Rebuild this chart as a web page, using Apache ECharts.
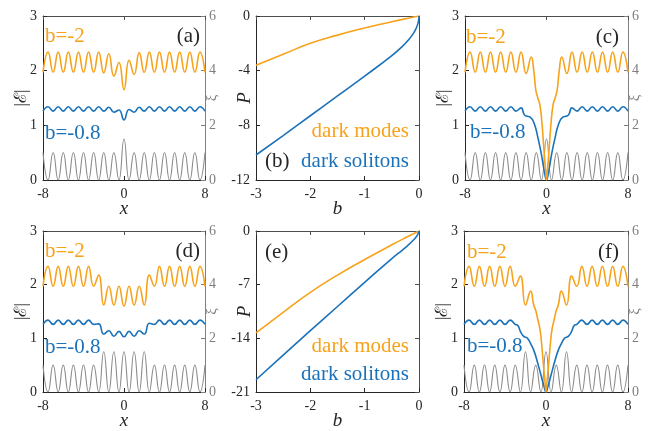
<!DOCTYPE html>
<html>
<head>
<meta charset="utf-8">
<script src="https://cdn.jsdelivr.net/npm/echarts@6/dist/echarts.min.js"></script>
<style>
html,body{margin:0;padding:0;background:#fff;}
#main{width:664px;height:431px;}
</style>
</head>
<body>
<div id="main"></div>
<script>
// x samples for the |E| panels (a),(d): peaks / troughs every half period
var xs = [-8,-7.5,-7,-6.5,-6,-5.5,-5,-4.5,-4,-3.5,-3,-2.5,-2,-1.5,-1,-0.5,0,0.5,1,1.5,2,2.5,3,3.5,4,4.5,5,5.5,6,6.5,7,7.5,8];

// lattice (gray, right axis xi)
var grayA = [1,0,1,0,1,0,1,0,1,0,1,0,1,0,1,0,1.5,0,1,0,1,0,1,0,1,0,1,0,1,0,1,0,1];
var grayD = [1,0,1,0,1,0,1,0,1,0,1,0,1.5,0,1.5,0,1.5,0,1.5,0,1.5,0,1,0,1,0,1,0,1,0,1,0,1];
var grayF = [1,0,1,0,1,0,1,0,1,0,1,0,1.5,0,1,0,1.5,0,1,0,1.5,0,1,0,1,0,1,0,1,0,1,0,1];

// (a) b=-2 / b=-0.8
var orangeA = [1.97,2.34,1.97,2.34,1.97,2.34,1.97,2.34,1.97,2.34,1.97,2.34,1.96,2.31,1.9,2.15,1.65,2.19,1.93,2.33,1.97,2.34,1.97,2.34,1.97,2.34,1.97,2.34,1.97,2.34,1.97,2.34,1.97];
var blueA = [1.26,1.34,1.26,1.34,1.26,1.34,1.26,1.34,1.26,1.34,1.26,1.34,1.26,1.33,1.24,1.28,1.1,1.29,1.24,1.33,1.26,1.34,1.26,1.34,1.26,1.34,1.26,1.34,1.26,1.34,1.26,1.34,1.26];

// (d)
var orangeD = [1.97,2.34,1.97,2.34,1.97,2.34,1.97,2.34,1.97,2.34,1.97,2.18,1.62,1.97,1.62,1.97,1.6,1.97,1.62,1.97,1.62,2.18,1.97,2.34,1.97,2.34,1.97,2.34,1.97,2.34,1.97,2.34,1.97];
var blueD = [1.26,1.34,1.26,1.34,1.26,1.34,1.26,1.34,1.26,1.34,1.26,1.27,1.08,1.14,1.04,1.13,1.03,1.13,1.04,1.14,1.08,1.28,1.26,1.34,1.26,1.34,1.26,1.34,1.26,1.34,1.26,1.34,1.26];

// (c) [x, |E|]
var orangeC = [[-8,1.97],[-7.5,2.34],[-7,1.97],[-6.5,2.34],[-6,1.97],[-5.5,2.34],[-5,1.97],[-4.5,2.34],[-4,1.97],[-3.5,2.34],[-3,1.97],[-2.5,2.34],[-2,1.95],[-1.5,2.25],[-1.25,2.0],[-1.05,1.65],[-0.85,1.5],[-0.65,1.38],[-0.45,1.05],[-0.25,0.55],[-0.1,0.2],[0,0],[0.1,0.2],[0.25,0.55],[0.45,1.05],[0.65,1.38],[0.85,1.5],[1.05,1.65],[1.25,2.0],[1.5,2.25],[2,1.95],[2.5,2.34],[3,1.97],[3.5,2.34],[4,1.97],[4.5,2.34],[5,1.97],[5.5,2.34],[6,1.97],[6.5,2.34],[7,1.97],[7.5,2.34],[8,1.97]];
var blueC = [[-8,1.26],[-7.5,1.34],[-7,1.26],[-6.5,1.34],[-6,1.26],[-5.5,1.34],[-5,1.26],[-4.5,1.34],[-4,1.26],[-3.5,1.34],[-3,1.26],[-2.5,1.32],[-2.2,1.2],[-2,1.17],[-1.6,1.15],[-1.2,1.03],[-0.85,0.78],[-0.5,0.47],[-0.25,0.2],[0,0],[0.25,0.2],[0.5,0.47],[0.85,0.78],[1.2,1.03],[1.6,1.15],[2,1.17],[2.2,1.2],[2.5,1.32],[3,1.26],[3.5,1.34],[4,1.26],[4.5,1.34],[5,1.26],[5.5,1.34],[6,1.26],[6.5,1.34],[7,1.26],[7.5,1.34],[8,1.26]];

// (f)
var orangeF = [[-8,1.97],[-7.5,2.34],[-7,1.97],[-6.5,2.34],[-6,1.97],[-5.5,2.34],[-5,1.97],[-4.5,2.34],[-4,1.97],[-3.5,2.34],[-3,1.97],[-2.5,2.16],[-2,1.62],[-1.5,1.88],[-1.2,1.62],[-1.0,1.52],[-0.8,1.35],[-0.6,1.18],[-0.45,0.95],[-0.25,0.5],[-0.1,0.2],[0,0],[0.1,0.2],[0.25,0.5],[0.45,0.95],[0.6,1.18],[0.8,1.35],[1.0,1.52],[1.2,1.62],[1.5,1.88],[2,1.62],[2.5,2.16],[3,1.97],[3.5,2.34],[4,1.97],[4.5,2.34],[5,1.97],[5.5,2.34],[6,1.97],[6.5,2.34],[7,1.97],[7.5,2.34],[8,1.97]];
var blueF = [[-8,1.26],[-7.5,1.34],[-7,1.26],[-6.5,1.34],[-6,1.26],[-5.5,1.34],[-5,1.26],[-4.5,1.34],[-4,1.26],[-3.5,1.34],[-3,1.26],[-2.75,1.24],[-2.5,1.13],[-2.2,1.04],[-1.8,1.0],[-1.5,0.9],[-1.2,0.78],[-0.85,0.57],[-0.5,0.32],[-0.2,0.11],[0,0],[0.2,0.11],[0.5,0.32],[0.85,0.57],[1.2,0.78],[1.5,0.9],[1.8,1.0],[2.2,1.04],[2.5,1.13],[2.75,1.24],[3,1.26],[3.5,1.34],[4,1.26],[4.5,1.34],[5,1.26],[5.5,1.34],[6,1.26],[6.5,1.34],[7,1.26],[7.5,1.34],[8,1.26]];

// (b) power P vs b
var orangeB = [[-3,-3.6],[-2.5,-2.8],[-2,-2.0],[-1.5,-1.4],[-1,-0.88],[-0.5,-0.42],[-0.2,-0.16],[0,0]];
var blueB = [[-3,-10.17],[-2.5,-8.75],[-2,-7.3],[-1.5,-5.85],[-1,-4.4],[-0.5,-2.9],[-0.3,-2.2],[-0.2,-1.78],[-0.1,-1.25],[-0.05,-0.88],[-0.02,-0.55],[-0.005,-0.25],[0,0]];
// (e)
var orangeE = [[-3,-13.3],[-2.5,-10.6],[-2,-8.0],[-1.5,-5.75],[-1,-3.72],[-0.5,-1.8],[-0.25,-0.88],[0,0]];
var blueE = [[-3,-19.4],[-2.5,-16.2],[-2,-13.0],[-1.5,-9.85],[-1,-6.7],[-0.5,-3.6],[-0.3,-2.45],[-0.2,-1.85],[-0.1,-1.16],[-0.05,-0.75],[-0.02,-0.4],[0,0]];

var ORANGE = '#F7A21B', BLUE = '#1A72BB', GRAY = '#8C8C8C', INK = '#262626';
var FONT = 'Liberation Serif';

function pairs(x, y) {
    return x.map(function (v, i) { return [v, y[i]]; });
}

var panels = [
    {grid: {left: 43, top: 16, width: 162, height: 164}, x: [-8, 8, 8], xName: 'x', y: [0, 3, 1], yName: '|ℰ|', right: true},
    {grid: {left: 256, top: 16, width: 163, height: 164}, x: [-3, 0, 1], xName: 'b', y: [-12, 0, 4], yName: 'P', right: false},
    {grid: {left: 465, top: 16, width: 163, height: 164}, x: [-8, 8, 8], xName: 'x', y: [0, 3, 1], yName: '|ℰ|', right: true},
    {grid: {left: 43, top: 231, width: 162, height: 163}, x: [-8, 8, 8], xName: 'x', y: [0, 3, 1], yName: '|ℰ|', right: true},
    {grid: {left: 256, top: 231, width: 163, height: 163}, x: [-3, 0, 1], xName: 'b', y: [-21, 0, 7], yName: 'P', right: false},
    {grid: {left: 464, top: 231, width: 164, height: 163}, x: [-8, 8, 8], xName: 'x', y: [0, 3, 1], yName: '|ℰ|', right: true}
];

var labelStyle = {fontFamily: FONT, fontSize: 14, color: INK, margin: 6};
var nameItalic = {fontFamily: FONT, fontSize: 19, fontStyle: 'italic', color: INK};

var grids = [], xAxes = [], yAxes = [];
panels.forEach(function (p, g) {
    grids.push(p.grid);
    // bottom axis
    xAxes.push({
        gridIndex: g, type: 'value', min: p.x[0], max: p.x[1], interval: p.x[2],
        name: p.xName, nameLocation: 'middle', nameGap: 19, nameMoveOverlap: false, nameTextStyle: nameItalic,
        axisLine: {onZero: false, lineStyle: {color: INK, width: 1}},
        axisTick: {inside: true, length: 4, lineStyle: {color: INK}},
        axisLabel: Object.assign({}, labelStyle, {margin: 7}),
        splitLine: {show: false}
    });
    // top box side
    xAxes.push({
        gridIndex: g, type: 'value', position: 'top', min: p.x[0], max: p.x[1], interval: p.x[2],
        axisLine: {onZero: false, lineStyle: {color: '#4d4d4d', width: 1}},
        axisTick: {inside: true, length: 4, lineStyle: {color: '#4d4d4d'}},
        axisLabel: {show: false}, splitLine: {show: false}
    });
    // left axis
    yAxes.push({
        gridIndex: g, type: 'value', min: p.y[0], max: p.y[1], interval: p.y[2],
        name: p.yName, nameLocation: 'middle', nameMoveOverlap: false,
        nameGap: p.right ? 13 : 2,
        nameTextStyle: p.right ? {fontFamily: FONT, fontSize: 17, color: INK} : nameItalic,
        axisLine: {onZero: false, lineStyle: {color: INK, width: 1}},
        axisTick: {inside: true, length: 4, lineStyle: {color: INK}},
        axisLabel: labelStyle,
        splitLine: {show: false}
    });
    // right axis: xi for the field panels, plain box side for P panels
    if (p.right) {
        yAxes.push({
            gridIndex: g, type: 'value', position: 'right', min: 0, max: 6, interval: 2,
            name: 'ξ', nameLocation: 'middle', nameGap: 0, nameMoveOverlap: false,
            nameTextStyle: {fontFamily: FONT, fontSize: 15, color: '#7f7f7f'},
            axisLine: {onZero: false, lineStyle: {color: '#808080', width: 1}},
            axisTick: {inside: true, length: 4, lineStyle: {color: '#808080'}},
            axisLabel: Object.assign({}, labelStyle, {color: '#7f7f7f', margin: 4}),
            splitLine: {show: false}
        });
    } else {
        yAxes.push({
            gridIndex: g, type: 'value', position: 'right', min: p.y[0], max: p.y[1], interval: p.y[2],
            axisLine: {onZero: false, lineStyle: {color: '#4d4d4d', width: 1}},
            axisTick: {inside: true, length: 4, lineStyle: {color: '#4d4d4d'}},
            axisLabel: {show: false}, splitLine: {show: false}
        });
    }
});

function line(g, yi, data, color, w) {
    return {
        type: 'line', xAxisIndex: 2 * g, yAxisIndex: 2 * g + yi, data: data,
        smooth: 0.5, showSymbol: false, symbol: 'none',
        lineStyle: {color: color, width: w}, itemStyle: {color: color},
        silent: true
    };
}

var series = [
    // (a)
    line(0, 1, pairs(xs, grayA), GRAY, 1.1),
    line(0, 0, pairs(xs, blueA), BLUE, 1.6),
    line(0, 0, pairs(xs, orangeA), ORANGE, 1.6),
    // (b)
    line(1, 0, orangeB, ORANGE, 1.6),
    line(1, 0, blueB, BLUE, 1.6),
    // (c)
    line(2, 1, pairs(xs, grayA), GRAY, 1.1),
    line(2, 0, blueC, BLUE, 1.6),
    line(2, 0, orangeC, ORANGE, 1.6),
    // (d)
    line(3, 1, pairs(xs, grayD), GRAY, 1.1),
    line(3, 0, pairs(xs, blueD), BLUE, 1.6),
    line(3, 0, pairs(xs, orangeD), ORANGE, 1.6),
    // (e)
    line(4, 0, orangeE, ORANGE, 1.6),
    line(4, 0, blueE, BLUE, 1.6),
    // (f)
    line(5, 1, pairs(xs, grayF), GRAY, 1.1),
    line(5, 0, blueF, BLUE, 1.6),
    line(5, 0, orangeF, ORANGE, 1.6)
];

function txt(s, x, y, color, align) {
    return {
        type: 'text', silent: true, z: 100,
        style: {text: s, x: x, y: y, fill: color, fontSize: 21, fontFamily: FONT,
            textAlign: align || 'left', textVerticalAlign: 'middle'}
    };
}

var chartDom = document.getElementById('main');
var myChart = echarts.init(chartDom);
var option;
option = {
    animation: false,
    backgroundColor: '#fff',
    grid: grids,
    xAxis: xAxes,
    yAxis: yAxes,
    series: series,
    graphic: [
        txt('b=-2', 45, 36, ORANGE), txt('b=-0.8', 45, 133, BLUE), txt('(a)', 200, 36, INK, 'right'),
        txt('dark modes', 409, 131, ORANGE, 'right'), txt('dark solitons', 409, 161, BLUE, 'right'), txt('(b)', 265, 161, INK),
        txt('b=-2', 466, 37, ORANGE), txt('b=-0.8', 470, 132, BLUE), txt('(c)', 619, 37, INK, 'right'),
        txt('b=-2', 45, 251, ORANGE), txt('b=-0.8', 45, 347, BLUE), txt('(d)', 200, 251, INK, 'right'),
        txt('(e)', 265, 252, INK), txt('dark modes', 409, 346, ORANGE, 'right'), txt('dark solitons', 409, 374, BLUE, 'right'),
        txt('b=-2', 467, 252, ORANGE), txt('b=-0.8', 467, 346, BLUE), txt('(f)', 619, 252, INK, 'right')
    ]
};
option && myChart.setOption(option);
</script>
</body>
</html>
